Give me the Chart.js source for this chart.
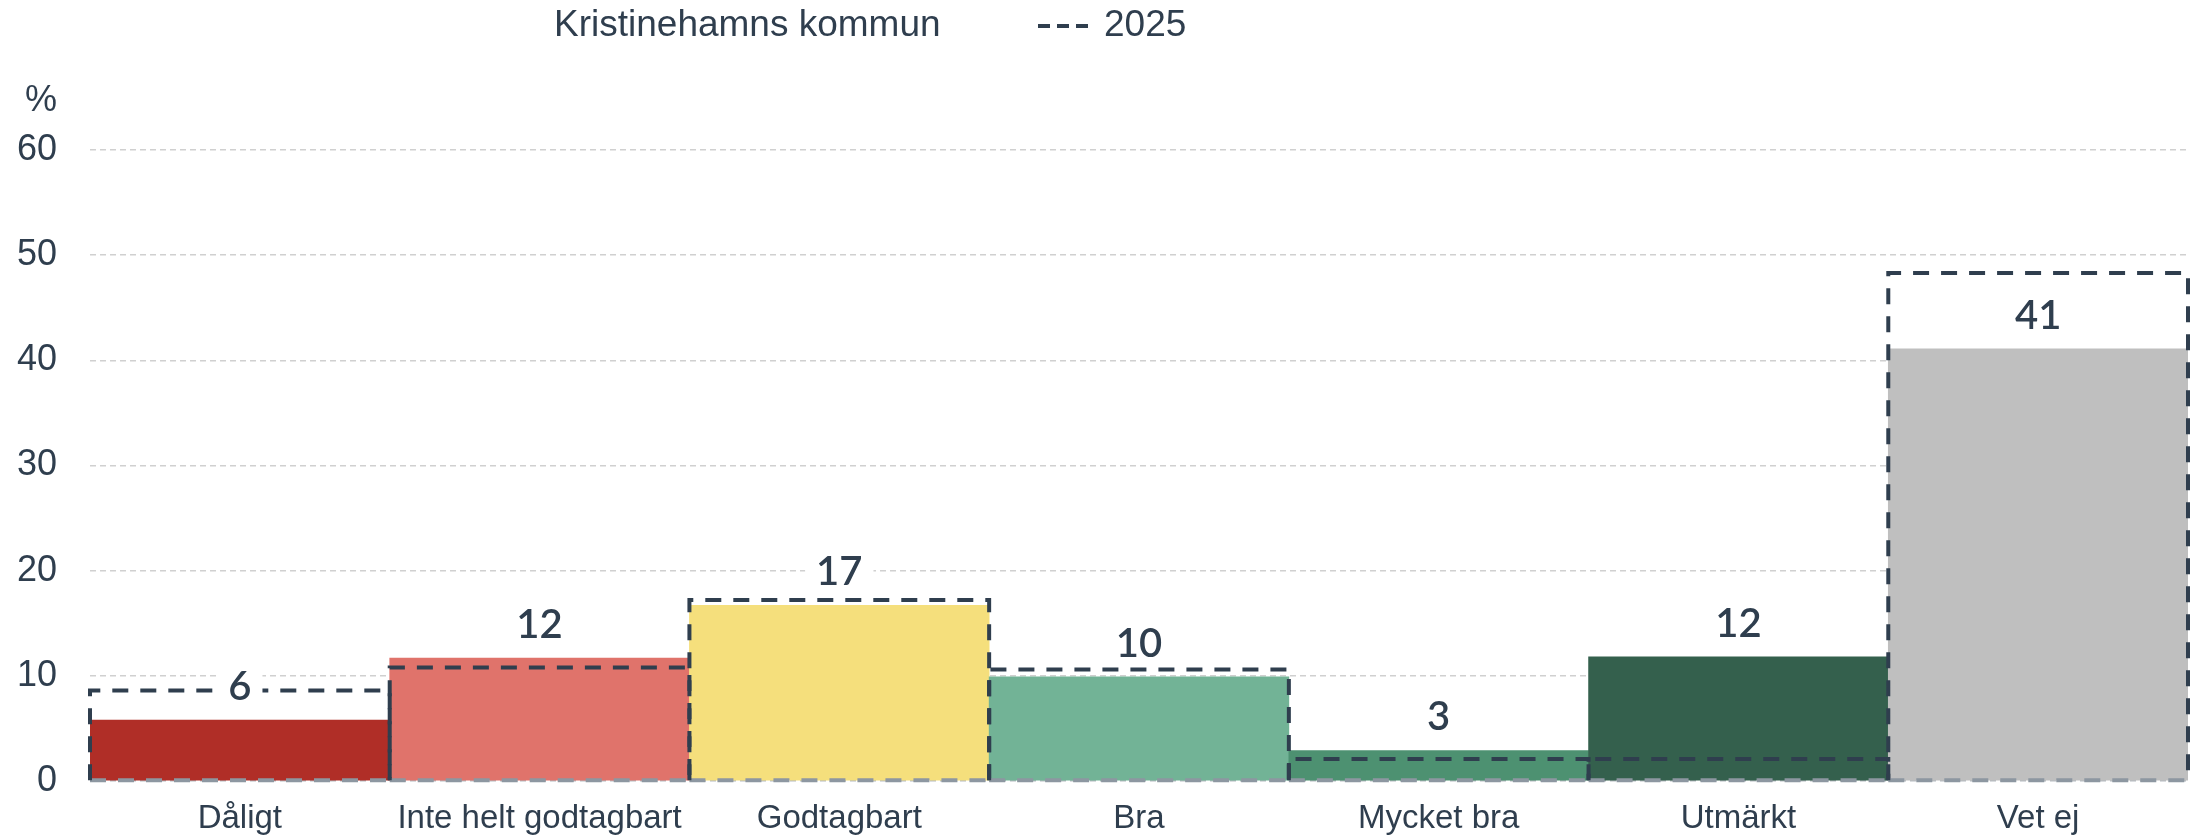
<!DOCTYPE html>
<html>
<head>
<meta charset="utf-8">
<script src="https://cdn.jsdelivr.net/npm/chart.js@4"></script>
<style>
  html, body { margin: 0; padding: 0; background: #fff; }
  #wrap { width: 2199px; height: 839px; }
</style>
</head>
<body>
<div id="wrap"><canvas id="chart"></canvas></div>
<script>
const categories = ["Dåligt", "Inte helt godtagbart", "Godtagbart", "Bra", "Mycket bra", "Utmärkt", "Vet ej"];
const kommunValues = [5.8, 11.7, 16.7, 9.9, 2.9, 11.8, 41.1];
const values2025 = [8.6, 10.8, 17.2, 10.6, 2.1, 2.1, 48.3];
const barColors = ["#b02e27", "#e0736b", "#f5df7c", "#72b396", "#4d9171", "#34604d", "#bfbfbf"];
const yTicks = [0, 10, 20, 30, 40, 50, 60];
const seriesNames = ["Kristinehamns kommun", "2025"];

const textColor = "#2f3e4e";

// dashed 2025 boxes + value labels on top of the bars
const outlinePlugin = {
  id: "outlinePlugin",
  afterDatasetsDraw(chart) {
    const ctx = chart.ctx;
    ctx.save();
    ctx.lineWidth = 4;
    ctx.setLineDash([16, 12]);
    chart.getDatasetMeta(1).data.forEach(bar => {
      const left = bar.x - bar.width / 2;
      const right = bar.x + bar.width / 2;
      ctx.strokeStyle = "#8d97a1";
      ctx.beginPath();
      ctx.moveTo(left, bar.base);
      ctx.lineTo(right, bar.base);
      ctx.stroke();
      ctx.strokeStyle = textColor;
      ctx.beginPath();
      ctx.moveTo(left, bar.base);
      ctx.lineTo(left, bar.y);
      ctx.lineTo(right, bar.y);
      ctx.lineTo(right, bar.base);
      ctx.stroke();
    });

    ctx.setLineDash([]);
    ctx.font = "600 40px Lato";
    ctx.textAlign = "center";
    ctx.textBaseline = "middle";
    chart.getDatasetMeta(0).data.forEach((bar, i) => {
      const txt = String(Math.round(kommunValues[i]));
      const w = ctx.measureText(txt).width + 22;
      const cy = bar.y - 34;
      ctx.fillStyle = "#fff";
      ctx.fillRect(bar.x - w / 2, cy - 22, w, 44);
      ctx.fillStyle = textColor;
      ctx.fillText(txt, bar.x, cy + 1);
    });
    ctx.restore();
  }
};

// legend at top and the % unit label
const legendPlugin = {
  id: "legendPlugin",
  afterDraw(chart) {
    const ctx = chart.ctx;
    ctx.save();
    ctx.fillStyle = textColor;
    ctx.textBaseline = "middle";
    ctx.textAlign = "left";
    ctx.font = "37px 'Liberation Sans'";
    ctx.fillText(chart.data.datasets[0].label, 554, 26);
    ctx.strokeStyle = textColor;
    ctx.lineWidth = 4;
    ctx.setLineDash([12, 7]);
    ctx.beginPath();
    ctx.moveTo(1038, 26);
    ctx.lineTo(1088, 26);
    ctx.stroke();
    ctx.setLineDash([]);
    ctx.fillText(chart.data.datasets[1].label, 1104, 26);
    ctx.font = "36px 'Liberation Sans'";
    ctx.fillText("%", 25, 101);
    ctx.restore();
  }
};

new Chart(document.getElementById("chart"), {
  type: "bar",
  data: {
    labels: categories,
    datasets: [
      {
        label: seriesNames[0],
        data: kommunValues,
        backgroundColor: barColors,
        borderWidth: 0,
        grouped: false,
        order: 2,
      },
      {
        label: seriesNames[1],
        data: values2025,
        backgroundColor: "rgba(0,0,0,0)",
        borderWidth: 0,
        grouped: false,
        order: 1,
      },
    ],
  },
  options: {
    responsive: true,
    maintainAspectRatio: false,
    animation: false,
    datasets: {
      bar: { categoryPercentage: 1, barPercentage: 1 },
    },
    layout: { padding: { top: 150, right: 11, left: 0, bottom: 0 } },
    plugins: {
      legend: { display: false },
      tooltip: { enabled: false },
    },
    scales: {
      x: {
        afterFit: s => { s.height = 58; },
        grid: { display: false, drawTicks: false },
        border: { display: false },
        ticks: {
          color: textColor,
          padding: 18,
          font: { family: "'Liberation Sans'", size: 33 },
        },
      },
      y: {
        min: 0,
        max: 60,
        afterBuildTicks: s => { s.ticks = yTicks.map(v => ({ value: v })); },
        afterFit: s => { s.width = 90; },
        grid: {
          drawTicks: false,
          color: c => (c.tick && c.tick.value === 0 ? "#b3b9bf" : "#d0d0d0"),
          lineWidth: 1.5,
        },
        border: { display: false, dash: [6, 4] },
        ticks: {
          color: textColor,
          padding: 33,
          font: { family: "'Liberation Sans'", size: 36 },
        },
      },
    },
  },
  plugins: [outlinePlugin, legendPlugin],
});
</script>
</body>
</html>
